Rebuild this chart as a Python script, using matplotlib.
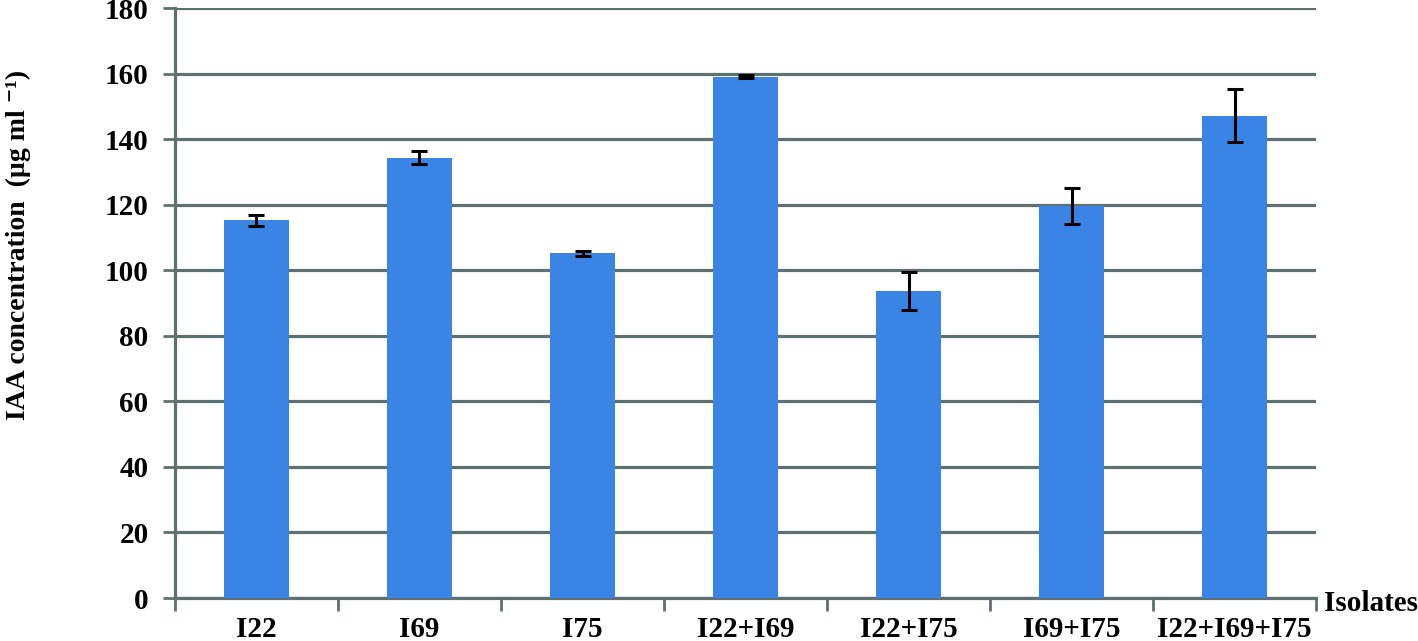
import numpy as np
import matplotlib
matplotlib.use('Agg')
import matplotlib.pyplot as plt

plt.rcParams['font.family'] = ['Liberation Serif', 'DejaVu Serif']
plt.rcParams['font.weight'] = 'bold'

# data
isolates = ['I22', 'I69', 'I75', 'I22+I69', 'I22+I75', 'I69+I75', 'I22+I69+I75']
iaa = [115.2, 134.3, 105.2, 159.0, 93.7, 119.5, 147.2]
err = [1.7, 2.0, 0.7, 0.5, 5.8, 5.5, 8.0]

grey = '#5f7070'
blue = '#3a84e6'

fig = plt.figure(figsize=(14.18, 6.41), dpi=100)
ax = fig.add_axes([0.1234, 0.067, 0.8047, 0.9205])

x = np.arange(len(isolates))
ax.bar(x, iaa, width=0.4, color=blue, zorder=3)
ax.errorbar(x, iaa, yerr=err, fmt='none', ecolor='black', elinewidth=2.2,
            capsize=6, capthick=2.2, zorder=4)

ax.set_ylim(0, 180)
ax.set_yticks(np.arange(0, 181, 20))
ax.set_xlim(-0.5, len(isolates) - 0.5)
ax.set_xticks(np.arange(-0.5, len(isolates), 1.0))
ax.set_xticklabels([])
ax.set_xticks(x, minor=True)
ax.set_xticklabels(isolates, minor=True, fontsize=21, fontweight='bold')
ax.tick_params(axis='x', which='minor', length=0, pad=13)
ax.tick_params(axis='x', which='major', length=9, width=2, color=grey)
ax.tick_params(axis='y', length=9, width=2, color=grey, labelsize=21, pad=10)

ax.grid(axis='y', color=grey, linewidth=2.3, zorder=0)
for s in ['top', 'right']:
    ax.spines[s].set_visible(False)
for s in ['left', 'bottom']:
    ax.spines[s].set_color(grey)
    ax.spines[s].set_linewidth(2.3)

# y label placed as rotated text, centred where the original sits
ax.text(-0.1376, 0.598, 'IAA concentration  (µg ml ⁻¹)', transform=ax.transAxes,
        fontsize=20, fontweight='bold', rotation=90, ha='center', va='center')
ax.text(1.007, -0.01, 'Isolates', transform=ax.transAxes, fontsize=21,
        fontweight='bold', ha='left', va='center')

fig.savefig('out.png', dpi=100)
